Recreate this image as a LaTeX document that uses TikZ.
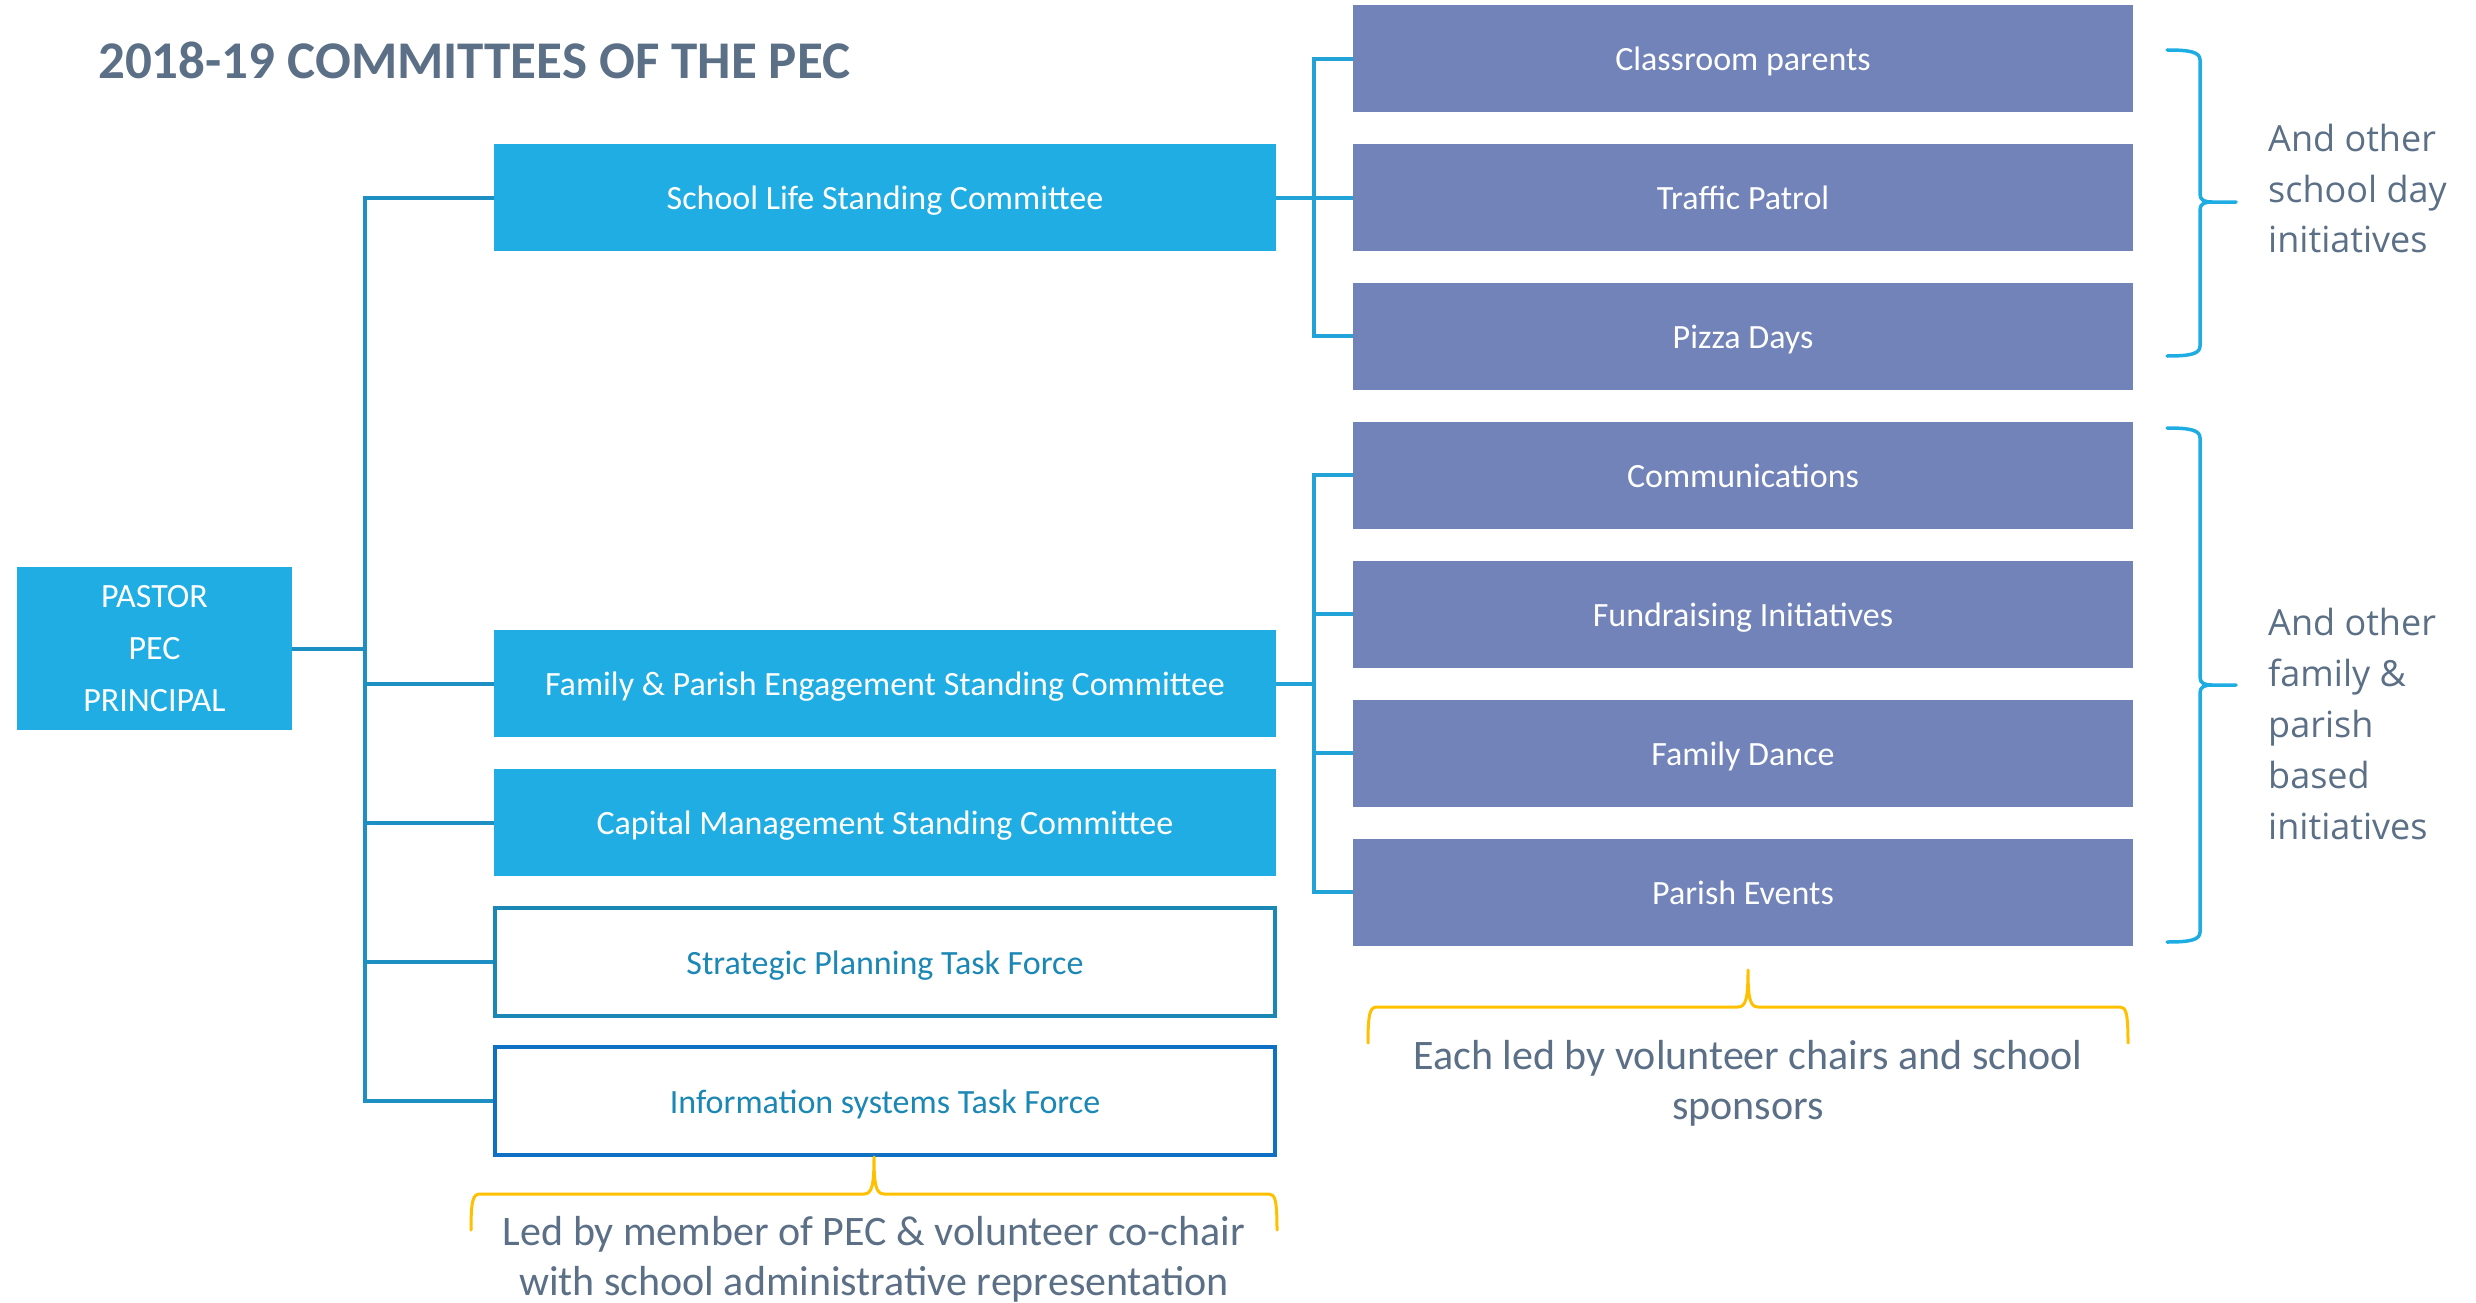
\documentclass[tikz,border=0pt]{standalone}
\usepackage{fontspec}
\setmainfont{Carlito}
\newfontfamily\notefont{Open Sans}
\definecolor{cblue}{HTML}{1FADE3}
\definecolor{ipurple}{HTML}{7183B9}
\definecolor{linkblue}{HTML}{1E8FC2}
\definecolor{sublinkblue}{HTML}{21A3D8}
\definecolor{tfteal}{HTML}{1B87B5}
\definecolor{tfblue}{HTML}{1070C4}
\definecolor{bracecol}{HTML}{1EADE2}
\definecolor{yellowcol}{HTML}{FFC000}
\definecolor{notegray}{HTML}{5B6F86}
\begin{document}
\begin{tikzpicture}[x=1pt,y=-1pt,
  boxtext/.style={font=\fontsize{34}{40}\selectfont, text=white, inner sep=0pt, align=center},
  oneline/.style={text height=24pt, text depth=0pt},
  cbox/.style={boxtext, rectangle, fill=cblue, minimum width=782pt, minimum height=107pt},
  tbox/.style={oneline, rectangle, draw=tfteal, line width=4pt, fill=white, minimum width=780pt, minimum height=108pt,
    inner sep=0pt, font=\fontsize{34}{40}\selectfont, text=tfteal},
  ibox/.style={boxtext, oneline, rectangle, fill=ipurple, minimum width=780pt, minimum height=107pt},
  link/.style={draw=linkblue, line width=4pt},
  sublink/.style={draw=sublinkblue, line width=4pt},
  rbrace/.style={draw=bracecol, line width=3.5pt, line cap=round, line join=round},
  ybrace/.style={draw=yellowcol, line width=3pt, line cap=round, line join=round},
  note/.style={text=notegray, inner sep=0pt}
]
\useasboundingbox (0,0) rectangle (2476,1303);

% title
\node[anchor=base west, inner sep=0pt, text=notegray, font=\fontsize{53}{60}\selectfont\bfseries]
  (title) at (98,79) {2018-19 COMMITTEES OF THE PEC};

% leadership
\node[cbox, minimum width=275pt, minimum height=163pt, font=\fontsize{34}{52}\selectfont]
  (pec) at (154.5,648.5) {PASTOR\\PEC\\PRINCIPAL};

% standing committees and task forces
\node[cbox, oneline] (sl) at (885,197.5) {School Life Standing Committee};
\node[cbox, oneline] (fp) at (885,683.5) {Family \& Parish Engagement Standing Committee};
\node[cbox, oneline] (cm) at (885,822.5) {Capital Management Standing Committee};
\node[tbox] (sp) at (885,962) {Strategic Planning Task Force};
\node[tbox, draw=tfblue] (is) at (885,1101) {Information systems Task Force};

% initiatives
\node[ibox] (cp) at (1743,59) {Classroom parents};
\node[ibox] (tp) at (1743,197.5) {Traffic Patrol};
\node[ibox] (pz) at (1743,336) {Pizza Days};
\node[ibox] (co) at (1743,475) {Communications};
\node[ibox] (fr) at (1743,614) {Fundraising Initiatives};
\node[ibox] (fd) at (1743,753) {Family Dance};
\node[ibox] (pe) at (1743,892) {Parish Events};

% tree connectors
\coordinate (trunk) at (365,0);
\coordinate (spine) at (1314,0);
\draw[link] (pec.east) -- (pec.east -| trunk);
\draw[link] (sl.west) -- (sl.west -| trunk) -- (is.west -| trunk) -- (is.west);
\foreach \n in {fp,cm,sp} \draw[link] (\n.west) -- (\n.west -| trunk);

\draw[sublink] (sl.east) -- (tp.west);
\draw[sublink] (cp.west) -- (cp.west -| spine) -- (pz.west -| spine) -- (pz.west);
\draw[sublink] (fp.east) -- (fp.east -| spine);
\draw[sublink] (co.west) -- (co.west -| spine) -- (pe.west -| spine) -- (pe.west);
\foreach \n in {fr,fd} \draw[sublink] (\n.west) -- (\n.west -| spine);

% right braces
\draw[rbrace] (2167,50) .. controls (2190,50) and (2200,52) .. (2200,60) -- (2200,194)
  .. controls (2200,200) and (2204,202) .. (2212,202) -- (2236,202)
  (2212,202) .. controls (2204,202) and (2200,204) .. (2200,210) -- (2200,346)
  .. controls (2200,354) and (2190,356) .. (2167,356);
\draw[rbrace] (2167,428) .. controls (2190,428) and (2200,430) .. (2200,438) -- (2200,677)
  .. controls (2200,683) and (2204,685) .. (2212,685) -- (2236,685)
  (2212,685) .. controls (2204,685) and (2200,687) .. (2200,693) -- (2200,932)
  .. controls (2200,940) and (2190,942) .. (2167,942);

\node[note, anchor=north west, align=left, font=\notefont\fontsize{36}{50.5}\selectfont]
  (n1) at (2268,124) {And other\\school day\\initiatives};
\node[note, anchor=north west, align=left, font=\notefont\fontsize{36}{51}\selectfont]
  (n2) at (2268,608) {And other\\family \&\\parish\\based\\initiatives};

% bottom braces
\draw[ybrace] (471,1230) .. controls (471,1200) and (473,1194) .. (480,1194) -- (864,1194)
  .. controls (872,1194) and (874,1185) .. (874,1157)
  .. controls (874,1185) and (876,1194) .. (884,1194) -- (1269,1194)
  .. controls (1275,1194) and (1277,1200) .. (1277,1230);
\draw[ybrace] (1368,1043) .. controls (1368,1013) and (1370,1007) .. (1377,1007) -- (1738,1007)
  .. controls (1746,1007) and (1748,998) .. (1748,970)
  .. controls (1748,998) and (1750,1007) .. (1758,1007) -- (2120,1007)
  .. controls (2126,1007) and (2128,1013) .. (2128,1043);

\node[note, anchor=north, align=center, font=\fontsize{42}{50}\selectfont]
  (n3) at (874,1216) {Led by member of PEC \& volunteer co-chair\\with school administrative representation};
\node[note, anchor=north, align=center, font=\fontsize{42}{50}\selectfont]
  (n4) at (1748,1040) {Each led by volunteer chairs and school\\sponsors};
\end{tikzpicture}
\end{document}
